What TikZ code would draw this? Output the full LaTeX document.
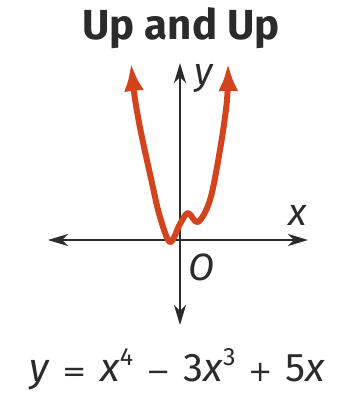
\documentclass[tikz,border=0pt]{standalone}
\usepackage{fontspec}
\setmainfont{Fira Sans}
\newfontfamily\opfont{DejaVu Sans}
\usetikzlibrary{arrows.meta}
\definecolor{curvered}{HTML}{D2441E}
\definecolor{axisgray}{HTML}{2B2B2B}
\tikzset{
  axisline/.style={axisgray,line width=1.8pt,{Stealth[length=20pt,width=12pt,inset=6pt]}-{Stealth[length=20pt,width=12pt,inset=6pt]}},
  graphline/.style={curvered,line width=6pt,line cap=round,line join=round,
                    {Latex[length=28pt,width=20pt]}-{Latex[length=28pt,width=20pt]}},
  axislabel/.style={inner sep=0pt,anchor=base west,font=\fontsize{38}{40}\selectfont\itshape,axisgray},
}
\newcommand{\pw}[1]{\raisebox{16pt}{\fontsize{25}{25}\selectfont #1}}
\newcommand{\op}[1]{\hspace{13pt}{\opfont\fontsize{29}{30}\selectfont #1}\hspace{13pt}}

\begin{document}
\begin{tikzpicture}[x=1pt,y=-1pt]
\useasboundingbox (0,0) rectangle (344,393);

% --- title and equation ---
\node[inner sep=0pt,anchor=base,font=\fontsize{42}{46}\selectfont\bfseries,axisgray]
  (title) at (181,40) {Up and Up};
\node[inner sep=0pt,anchor=base,font=\fontsize{40}{42}\selectfont,axisgray]
  (eqn) at (177.5,381) {\textit{y}\op{=}\textit{x}\pw{4}\op{−}3\textit{x}\pw{3}\op{+}5\textit{x}};

% --- axes ---
\coordinate (xl) at (48,240);
\coordinate (xr) at (308,240);
\coordinate (yt) at (180,63);
\coordinate (yb) at (180,325);
\draw[axisline] (xl) -- (xr);
\draw[axisline] (yb) -- (yt);

\node[axislabel] (ylab) at (194,85)  {y};
\node[axislabel] (xlab) at (288,225) {x};
\node[axislabel] (olab) at (188,280) {O};

% --- the quartic ---
\draw[graphline] plot[smooth,tension=0.55] coordinates
  {(131,63) (138,117) (152,183) (160,217) (170,242) (180,224)
   (188,213) (198,222) (210,200) (220,150) (227,100) (228,63)};

\end{tikzpicture}
\end{document}
